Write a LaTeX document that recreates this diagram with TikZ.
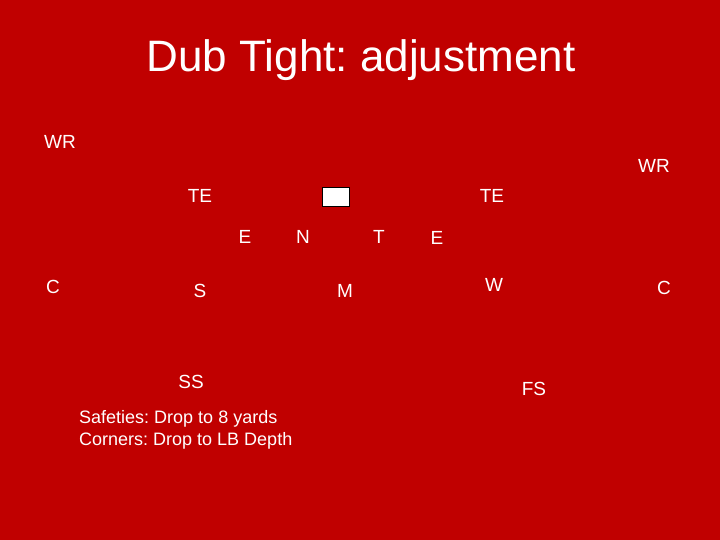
\documentclass[tikz,border=0pt]{standalone}
\usepackage{fontspec}
\setmainfont{Liberation Sans}
\frenchspacing
\definecolor{bgred}{RGB}{192,0,0}
\tikzset{
  player/.style={text=white, inner sep=0pt, font=\fontsize{19}{23}\selectfont},
  note/.style={text=white, inner sep=0pt, align=left, font=\fontsize{18}{22}\selectfont}
}

\begin{document}
\begin{tikzpicture}[x=1pt, y=-1pt]
	\fill[bgred] (0,0) rectangle (720,540);
	\useasboundingbox (0,0) rectangle (720,540);
	\node[text=white, font=\fontsize{44}{50}\selectfont] (title) at (361,60) {Dub Tight: adjustment};
	% offense
	\node[player] (wrL) at (60,142) {WR};
	\node[player] (wrR) at (654,166) {WR};
	\node[player] (teL) at (200,196) {TE};
	\node[player] (teR) at (492,196) {TE};
	\node[draw=black, fill=white, minimum width=27pt, minimum height=19pt, inner sep=0pt] (ball) at (335.5,196.5) {};
	% front
	\node[player] (eL) at (245,237) {E};
	\node[player] (nT) at (303,237) {N};
	\node[player] (tK) at (379,237) {T};
	\node[player] (eR) at (437,238) {E};
	% second level
	\node[player] (cL) at (53,287) {C};
	\node[player] (sLB) at (200,291) {S};
	\node[player] (mLB) at (345,291) {M};
	\node[player] (wLB) at (494,285) {W};
	\node[player] (cR) at (664,288) {C};
	% safeties
	\node[player] (sS) at (191,382) {SS};
	\node[player] (fS) at (534,389) {FS};
	\node[note, anchor=north west] (notes) at (79,410) {Safeties: Drop to 8 yards\\Corners: Drop to LB Depth};
\end{tikzpicture}
\end{document}
